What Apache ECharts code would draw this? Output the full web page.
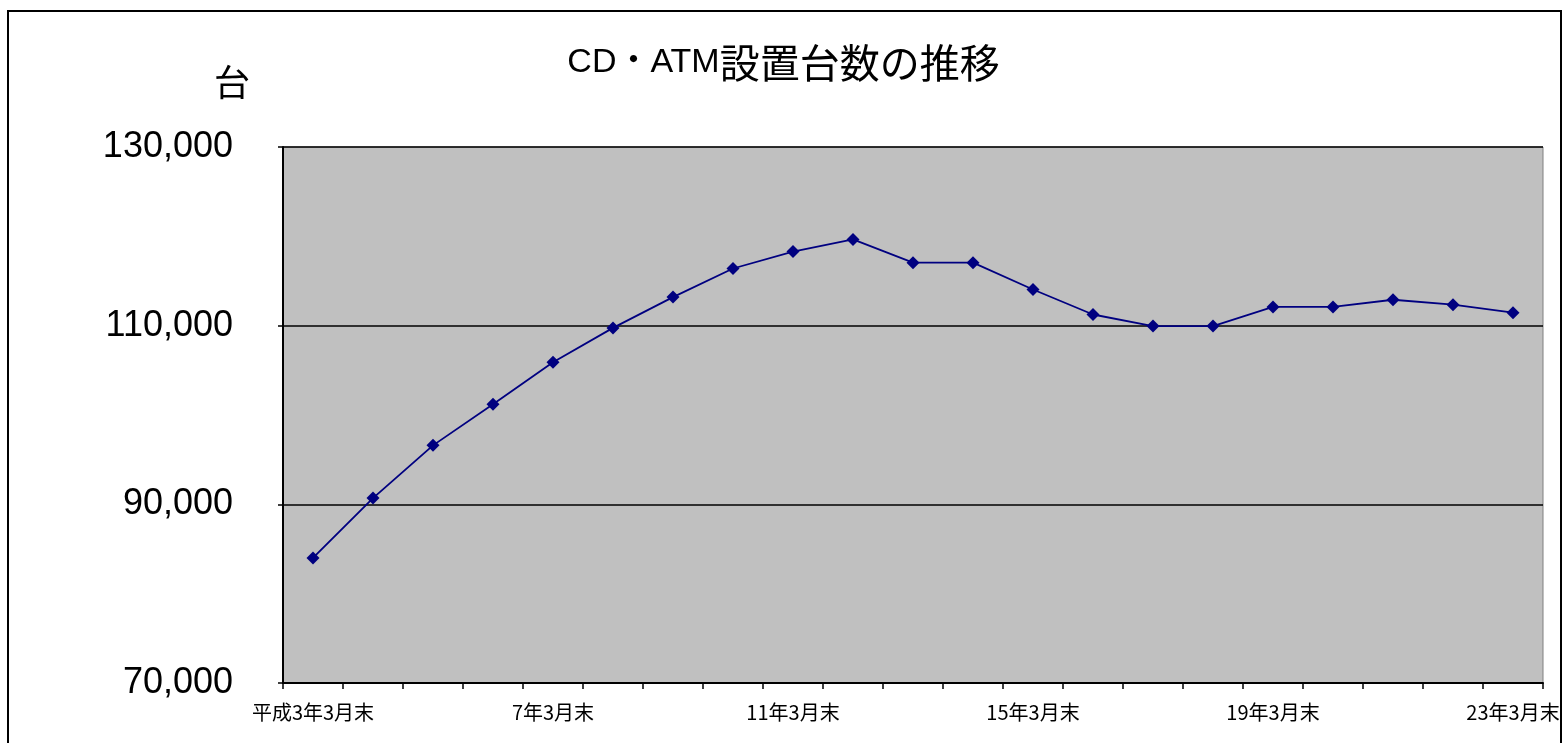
<!DOCTYPE html>
<html>
<head>
<meta charset="utf-8">
<script src="https://cdn.jsdelivr.net/npm/echarts@6/dist/echarts.min.js"></script>
<style>
html,body{margin:0;padding:0;background:#fff;}
#chart{width:1567px;height:743px;}
</style>
</head>
<body>
<div id="chart"></div>
<script>
const titleLatin = 'CD・ATM';
const titleKanji = '設置台数の推移';
const unitLabel = '台';
const categories = ['平成3年3月末','4年3月末','5年3月末','6年3月末','7年3月末','8年3月末','9年3月末','10年3月末','11年3月末','12年3月末','13年3月末','14年3月末','15年3月末','16年3月末','17年3月末','18年3月末','19年3月末','20年3月末','21年3月末','22年3月末','23年3月末'];
const atmCounts = [84000,90700,96600,101200,105900,109750,113200,116400,118300,119650,117050,117050,114050,111250,109950,109950,112100,112100,112900,112350,111450];
const yMin = 70000, yMax = 130000, yStep = 20000;

const chart = echarts.init(document.getElementById('chart'));
const font = '"Liberation Sans", "Noto Sans CJK JP", sans-serif';
const cjk = '"Noto Sans CJK JP", sans-serif';
chart.setOption({
  backgroundColor: '#ffffff',
  animation: false,
  title: {
    text: '{a|' + titleLatin + '}{b|' + titleKanji + '}',
    left: 'center',
    top: 38,
    textStyle: {
      fontWeight: 'normal',
      rich: {
        a: { fontFamily: font, fontSize: 34, fontWeight: 'normal', color: '#000' },
        b: { fontFamily: cjk, fontSize: 40, fontWeight: 'normal', color: '#000' }
      }
    }
  },
  graphic: [
    { type: 'rect', shape: { x: 8, y: 11, width: 1553, height: 740 }, style: { fill: 'none', stroke: '#000', lineWidth: 2 }, z: 100 },
    { type: 'text', left: 214, top: 64, style: { text: unitLabel, font: '36px ' + cjk, fill: '#000' } }
  ],
  grid: {
    left: 283, right: 24, top: 147, bottom: 60,
    show: true, backgroundColor: '#c0c0c0', borderColor: '#808080', borderWidth: 1
  },
  xAxis: {
    type: 'category',
    data: categories,
    boundaryGap: true,
    axisLine: { lineStyle: { color: '#000', width: 2 } },
    axisTick: { show: true, interval: 0, length: 6, lineStyle: { color: '#000', width: 1.5 } },
    axisLabel: { interval: 3, fontFamily: cjk, fontSize: 20, color: '#000', margin: 19 },
    splitLine: { show: false }
  },
  yAxis: {
    type: 'value',
    min: yMin, max: yMax, interval: yStep,
    axisLine: { show: true, lineStyle: { color: '#000', width: 2 } },
    axisTick: { show: true, length: 5, lineStyle: { color: '#000', width: 1.5 } },
    axisLabel: { fontFamily: font, fontSize: 36, color: '#000', margin: 50,
      formatter: function (v) { return v.toLocaleString('en-US'); } },
    splitLine: { show: true, lineStyle: { color: '#000', width: 1.5 } }
  },
  series: [{
    type: 'line',
    data: atmCounts,
    symbol: 'diamond',
    symbolSize: 13,
    lineStyle: { color: '#000080', width: 1.8 },
    itemStyle: { color: '#000080' }
  }]
});
</script>
</body>
</html>
